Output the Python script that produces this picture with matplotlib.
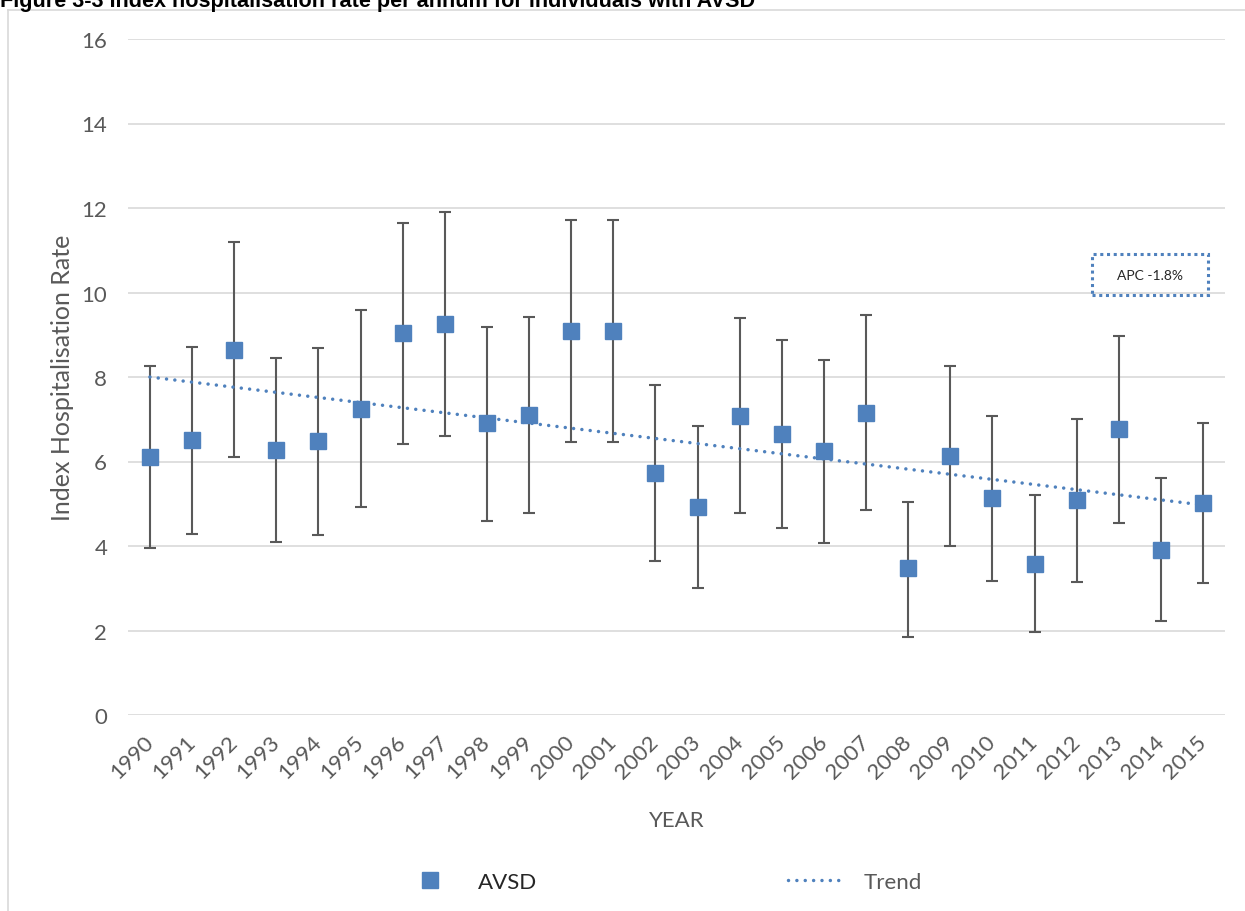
import numpy as np
import matplotlib
matplotlib.use("Agg")
import matplotlib.pyplot as plt
from matplotlib.lines import Line2D
from matplotlib.patches import Rectangle

# index hospitalisation rate per year with 95% CI
years = list(range(1990, 2016))
rate = [6.10, 6.50, 8.65, 6.28, 6.48, 7.25, 9.05, 9.25, 6.90, 7.10,
        9.10, 9.10, 5.72, 4.93, 7.08, 6.65, 6.25, 7.15, 3.47, 6.12,
        5.13, 3.58, 5.08, 6.77, 3.90, 5.02]
lower = [3.95, 4.28, 6.10, 4.10, 4.26, 4.92, 6.42, 6.60, 4.60, 4.78,
         6.47, 6.47, 3.65, 3.00, 4.77, 4.42, 4.08, 4.85, 1.85, 4.00,
         3.17, 1.96, 3.15, 4.55, 2.22, 3.12]
upper = [8.25, 8.70, 11.20, 8.45, 8.68, 9.58, 11.65, 11.90, 9.18, 9.42,
         11.72, 11.72, 7.80, 6.85, 9.40, 8.88, 8.40, 9.47, 5.05, 8.25,
         7.07, 5.20, 7.00, 8.97, 5.60, 6.92]
# straight trend line, 1990 and 2015 values
trend_years = [1990, 2015]
trend_vals = [8.00, 4.97]
apc_label = "APC -1.8%"

blue = "#4F81BD"
grey = "#595959"
plt.rcParams["font.family"] = ["Lato", "DejaVu Sans"]

x = np.arange(len(years))
rate = np.array(rate); lower = np.array(lower); upper = np.array(upper)
tx = [years.index(y) for y in trend_years]

fig = plt.figure(figsize=(12.45, 9.12), dpi=100)
ax = fig.add_axes([128 / 1245, 196 / 912, 1097 / 1245, 676 / 912])

ax.errorbar(x, rate, yerr=[rate - lower, upper - rate], fmt="none",
            ecolor=grey, elinewidth=1.5, capsize=4.5, capthick=1.5, zorder=3)
ax.plot(x, rate, "s", ms=11, color=blue, mec=blue, zorder=4)
ax.plot(tx, trend_vals, color=blue, lw=2.5, linestyle=(0, (0.01, 2.4)),
        dash_capstyle="round", zorder=5)

ax.set_xlim(-0.52, len(years) - 0.48)
ax.set_ylim(0, 16)
ax.set_yticks(range(0, 17, 2))
ax.set_xticks(x)
ax.set_xticklabels(years, rotation=45, ha="right", va="center",
                   rotation_mode="anchor")
ax.tick_params(length=0, labelsize=16, labelcolor=grey)
ax.tick_params(axis="y", pad=15)
ax.tick_params(axis="x", pad=17)
ax.grid(axis="y", color="#D9D9D9", lw=1.2)
ax.set_axisbelow(True)
for s in ax.spines.values():
    s.set_visible(False)

ax.set_ylabel("Index Hospitalisation Rate", fontsize=18, color=grey, labelpad=5)
ax.set_xlabel("YEAR", fontsize=16, color=grey, labelpad=20)

# APC annotation box
ax.add_patch(Rectangle((0.879, 0.621), 0.1055, 0.061, transform=ax.transAxes,
                       fill=False, edgecolor=blue, lw=2.2,
                       linestyle=(0, (1, 1.2)), zorder=6))
ax.text(0.932, 0.651, apc_label, transform=ax.transAxes, ha="center",
        va="center", fontsize=10, color="#262626")

# legend
handles = [Line2D([], [], ls="none", marker="s", ms=11, color=blue),
           Line2D([], [], color=blue, lw=2.5, linestyle=(0, (0.01, 2.4)),
                  dash_capstyle="round")]
leg = fig.legend(handles, ["AVSD", "Trend"], loc="center",
                 bbox_to_anchor=(662 / 1245, 1 - 883 / 912), ncol=2,
                 frameon=False, fontsize=16, handlelength=2.5,
                 handletextpad=0.9, columnspacing=11.3)
leg.get_texts()[0].set_color("#262626")
leg.get_texts()[1].set_color(grey)

# chart frame and clipped caption
fig.add_artist(Line2D([8 / 1245, 8 / 1245], [0, 1 - 11 / 912], color="#D9D9D9",
                      lw=1.2, transform=fig.transFigure))
fig.add_artist(Line2D([8 / 1245, 1], [1 - 11 / 912, 1 - 11 / 912],
                      color="#D9D9D9", lw=1.2, transform=fig.transFigure))
fig.text(0.0, 1 - 7 / 912,
         "Figure 3-3 Index hospitalisation rate per annum for individuals with AVSD",
         fontsize=15.6, fontweight="bold", family="Liberation Sans",
         ha="left", va="baseline", color="black")

fig.savefig("out.png", dpi=100)
